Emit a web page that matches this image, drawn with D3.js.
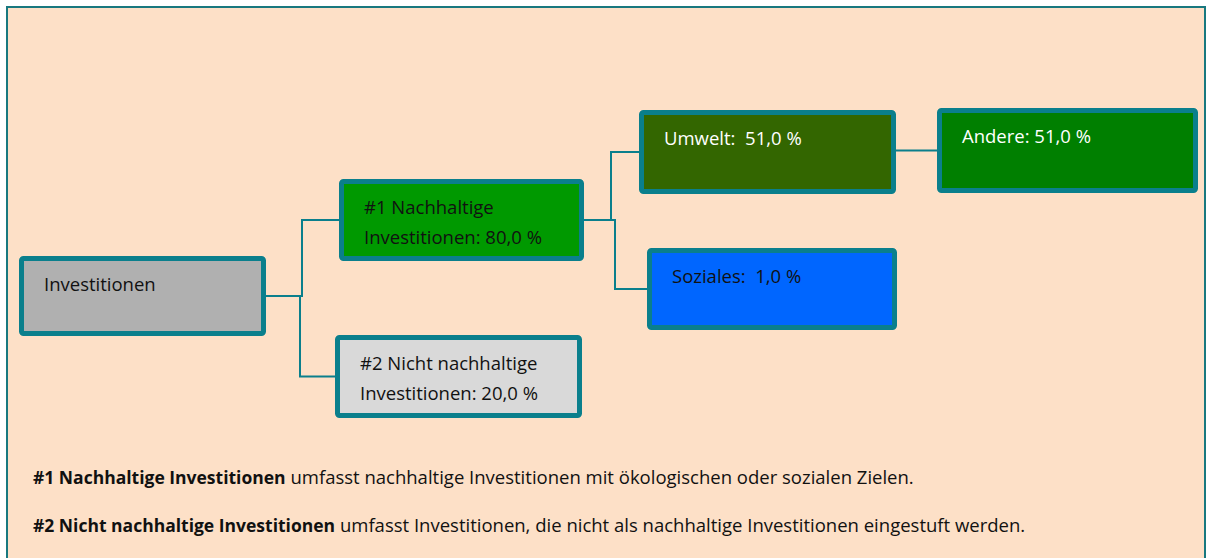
<!DOCTYPE html>
<html lang="de">
<head>
    <meta charset="UTF-8">
    <title>Investitionen</title>
    <style>
        html,body {
            margin : 0px;
            padding: 0px;
            background: #fff;
        }
        svg text { white-space: pre; }
    </style>
    <script src="https://cdn.jsdelivr.net/npm/d3@7/dist/d3.min.js"></script>
</head>
<body>
<svg></svg>
<script>
    // --- data ---
    const nodeIds    = ['inv', 'n1', 'n2', 'umwelt', 'soziales', 'andere']
    const nodeParent = [null, 'inv', 'inv', 'n1', 'n1', 'umwelt']
    const nodeLines  = [
        ['Investitionen'],
        ['#1 Nachhaltige', 'Investitionen: 80,0 %'],
        ['#2 Nicht nachhaltige', 'Investitionen: 20,0 %'],
        ['Umwelt:  51,0 %'],
        ['Soziales:  1,0 %'],
        ['Andere: 51,0 %']
    ]
    const footBold = ['#1 Nachhaltige Investitionen', '#2 Nicht nachhaltige Investitionen']
    const footText = [
        ' umfasst nachhaltige Investitionen mit ökologischen oder sozialen Zielen.',
        ' umfasst Investitionen, die nicht als nachhaltige Investitionen eingestuft werden.'
    ]

    // --- layout (outer box edges) ---
    const W = 1210, H = 558
    const boxes = {
        inv:      {x0: 19,  x1: 266,  y0: 256, y1: 336, fill: '#b0b0b0', ink: '#111'},
        n1:       {x0: 339, x1: 584,  y0: 179, y1: 261, fill: '#009900', ink: '#111'},
        n2:       {x0: 335, x1: 582,  y0: 335, y1: 418, fill: '#d9d9d9', ink: '#111'},
        umwelt:   {x0: 639, x1: 896,  y0: 110, y1: 194, fill: '#336600', ink: '#fff'},
        soziales: {x0: 647, x1: 897,  y0: 248, y1: 330, fill: '#0066ff', ink: '#111'},
        andere:   {x0: 937, x1: 1198, y0: 108, y1: 193, fill: '#007f00', ink: '#fff'}
    }
    const teal = '#0a7f8c'
    const font = '"Open Sans", sans-serif'

    const svg = d3.select('svg').attr('width', W).attr('height', H)

    svg.append('rect')
        .attr('x', 7).attr('y', 7).attr('width', 1198).attr('height', H + 10)
        .attr('fill', '#fde0c7').attr('stroke', '#18787f').attr('stroke-width', 2)

    const root = d3.stratify()
        .id((d) => d.id).parentId((d) => d.parent)(
            nodeIds.map((id, i) => ({id: id, parent: nodeParent[i], lines: nodeLines[i]}))
        )

    const linkGrp = svg.append('g').attr('fill', 'none').attr('stroke', teal).attr('stroke-width', 2)
    const nodeGrp = svg.append('g')

    linkGrp.selectAll('path').data(root.links())
        .enter().append('path')
        .attr('d', (l) => {
            const p = boxes[l.source.id], c = boxes[l.target.id]
            const py = (p.y0 + p.y1) / 2, cy = (c.y0 + c.y1) / 2
            if (l.source.children.length == 1) {
                return d3.line()([[p.x1, cy], [c.x0, cy]])
            }
            const mx = Math.round((p.x1 + c.x0) / 2) - 1
            return d3.line()([[p.x1, py], [mx, py], [mx, cy], [c.x0, cy]])
        })

    const sw = 5
    const node = nodeGrp.selectAll('g').data(root.descendants())
        .enter().append('g')
        .attr('transform', (d) => `translate(${boxes[d.id].x0}, ${boxes[d.id].y0})`)

    node.append('rect')
        .attr('x', sw / 2).attr('y', sw / 2)
        .attr('width', (d) => boxes[d.id].x1 - boxes[d.id].x0 - sw)
        .attr('height', (d) => boxes[d.id].y1 - boxes[d.id].y0 - sw)
        .attr('rx', 2)
        .attr('fill', (d) => boxes[d.id].fill)
        .attr('stroke', teal).attr('stroke-width', sw)

    node.append('text')
        .style('font-family', font).style('font-size', '18.5px')
        .attr('fill', (d) => boxes[d.id].ink)
        .selectAll('tspan').data((d) => d.data.lines)
        .enter().append('tspan')
        .attr('x', 25).attr('y', (t, i) => 35 + i * 30)
        .text((t) => t)

    const foot = svg.append('g').style('font-family', font).style('font-size', '18.5px').attr('fill', '#111')
    const ft = foot.selectAll('text').data(footBold)
        .enter().append('text')
        .attr('x', 33).attr('y', (t, i) => 484 + i * 48)
    ft.append('tspan').style('font-weight', 'bold').style('font-size', '17.5px').text((t) => t)
    ft.append('tspan').text((t, i) => footText[i])
</script>
</body>
</html>
